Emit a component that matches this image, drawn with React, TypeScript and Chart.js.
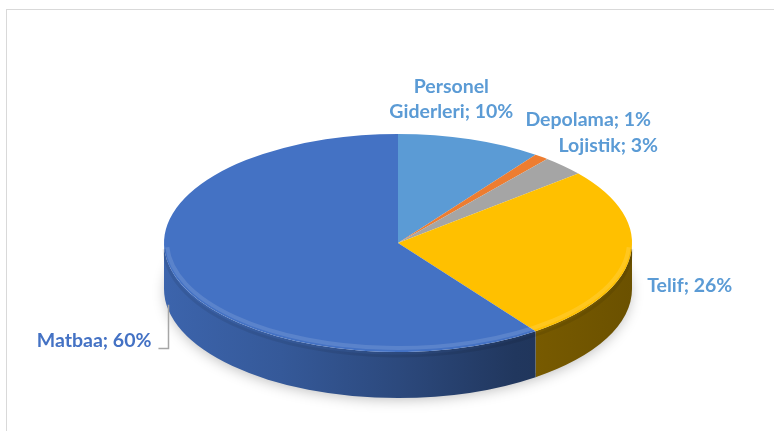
import React, { useEffect, useRef } from 'react';
import { Chart, registerables } from 'chart.js';

Chart.register(...registerables);

// ---- data ----
const categories = ['Personel Giderleri', 'Depolama', 'Lojistik', 'Telif', 'Matbaa'];
const shares = [10, 1, 3, 26, 60];
const sliceColors = ['#5B9BD5', '#ED7D31', '#A5A5A5', '#FFC000', '#4472C4'];
const labelColors = ['#5B9BD5', '#5B9BD5', '#5B9BD5', '#5B9BD5', '#4472C4'];

// ---- layout / style ----
const W = 774;
const H = 431;
const PIE = { cx: 398, cy: 243, rx: 234, ry: 109, depth: 46 };
const LABEL_NUDGE: number[][] = [[-19, -21], [-16, -31], [-5, -14], [17, 35], [-24, 70]];
const LABEL_FONT = 'bold 19.5px Lato, "Open Sans", sans-serif';
const LINE_H = 25;
const WRAP_WIDTH = 150;

function shade(hex: string, f: number): string {
  const n = parseInt(hex.slice(1), 16);
  const r = Math.round(((n >> 16) & 255) * f);
  const g = Math.round(((n >> 8) & 255) * f);
  const b = Math.round((n & 255) * f);
  return `rgb(${r},${g},${b})`;
}

function visibleFront(a0: number, a1: number): number[][] {
  const out: number[][] = [];
  for (let k = -2; k <= 2; k++) {
    const lo = Math.max(a0, k * 2 * Math.PI);
    const hi = Math.min(a1, k * 2 * Math.PI + Math.PI);
    if (hi > lo + 1e-6) out.push([lo, hi]);
  }
  return out;
}

const pie3d = {
  id: 'pie3d',
  beforeDraw(chart: any) {
    const ctx = chart.ctx;
    ctx.save();
    ctx.strokeStyle = '#D9D9D9';
    ctx.lineWidth = 1;
    ctx.strokeRect(6.5, 9.5, W + 40, H + 40);
    ctx.restore();
  },
  beforeDatasetsDraw(chart: any) {
    const ctx = chart.ctx;
    const arcs = chart.getDatasetMeta(0).data;
    if (!arcs.length) return;
    const { cx, cy, rx, ry, depth } = PIE;

    // soft shadow below the disc
    ctx.save();
    ctx.beginPath();
    ctx.ellipse(cx, cy + depth - 2, rx - 2, ry - 2, 0, 0, Math.PI * 2);
    ctx.shadowColor = 'rgba(0,0,0,0.28)';
    ctx.shadowBlur = 14;
    ctx.shadowOffsetY = 5;
    ctx.fillStyle = '#ffffff';
    ctx.fill();
    ctx.restore();

    // side walls
    arcs.forEach((arc: any, i: number) => {
      const parts = visibleFront(arc.startAngle, arc.endAngle);
      parts.forEach(([t0, t1]) => {
        ctx.save();
        ctx.beginPath();
        ctx.ellipse(cx, cy, rx, ry, 0, t0, t1, false);
        ctx.ellipse(cx, cy + depth, rx, ry, 0, t1, t0, true);
        ctx.closePath();
        const g = ctx.createLinearGradient(cx - rx, 0, cx + rx, 0);
        const c = sliceColors[i];
        g.addColorStop(0, shade(c, 0.88));
        g.addColorStop(0.25, shade(c, 0.78));
        g.addColorStop(0.5, shade(c, 0.64));
        g.addColorStop(0.75, shade(c, 0.48));
        g.addColorStop(1, shade(c, 0.42));
        ctx.fillStyle = g;
        ctx.fill();
        ctx.restore();
      });
    });

    // transform the flat pie into the top face of the disc
    const a0 = arcs[0];
    const r = a0.outerRadius;
    ctx.save();
    ctx.translate(cx, cy);
    ctx.scale(rx / r, ry / r);
    ctx.translate(-a0.x, -a0.y);
  },
  afterDatasetsDraw(chart: any) {
    const ctx = chart.ctx;
    ctx.restore();
    const { cx, cy, rx, ry } = PIE;
    // bevel highlight on front rim
    ctx.save();
    ctx.beginPath();
    ctx.ellipse(cx, cy - 1, rx - 3, ry - 3, 0, 0.05, Math.PI - 0.05);
    ctx.strokeStyle = 'rgba(255,255,255,0.12)';
    ctx.lineWidth = 4;
    ctx.stroke();
    ctx.beginPath();
    ctx.ellipse(cx, cy + 4, rx, ry, 0, 0.02, Math.PI - 0.02);
    ctx.strokeStyle = 'rgba(0,0,0,0.08)';
    ctx.lineWidth = 3;
    ctx.stroke();
    ctx.restore();
  },
  afterDraw(chart: any) {
    const ctx = chart.ctx;
    const arcs = chart.getDatasetMeta(0).data;
    const { cx, cy, rx, ry } = PIE;
    ctx.save();
    ctx.font = LABEL_FONT;
    ctx.textBaseline = 'alphabetic';
    arcs.forEach((arc: any, i: number) => {
      const mid = (arc.startAngle + arc.endAngle) / 2;
      const px = cx + rx * Math.cos(mid);
      const py = cy + ry * Math.sin(mid);
      const full = `${categories[i]}; ${shares[i]}%`;
      let lines = [full];
      if (ctx.measureText(full).width > WRAP_WIDTH) {
        const sp = full.indexOf(' ');
        lines = [full.slice(0, sp), full.slice(sp + 1)];
      }
      const c = Math.cos(mid);
      const align = Math.abs(c) < 0.35 ? 'center' : c > 0 ? 'left' : 'right';
      ctx.textAlign = align;
      ctx.fillStyle = labelColors[i];
      const ax = px + LABEL_NUDGE[i][0];
      const by = py + LABEL_NUDGE[i][1];
      lines.forEach((ln, k) => {
        ctx.fillText(ln, ax, by - (lines.length - 1 - k) * LINE_H);
      });
      // leader line for labels pulled far from the slice
      if (Math.hypot(LABEL_NUDGE[i][0], LABEL_NUDGE[i][1]) > 50) {
        const y = Math.round(by) + 1.5;
        const x0 = align === 'right' ? ax + 7 : ax - 7;
        const xl = align === 'right' ? px - 7 : px + 7;
        ctx.beginPath();
        ctx.moveTo(x0, y);
        ctx.lineTo(Math.round(xl) + 0.5, y);
        ctx.lineTo(Math.round(xl) + 0.5, py + 28);
        ctx.strokeStyle = '#A6A6A6';
        ctx.lineWidth = 1.5;
        ctx.stroke();
      }
    });
    ctx.restore();
  },
};

export default function App() {
  const ref = useRef<HTMLCanvasElement | null>(null);
  useEffect(() => {
    if (!ref.current) return;
    const chart = new Chart(ref.current, {
      type: 'pie',
      data: {
        labels: categories,
        datasets: [
          {
            data: shares,
            backgroundColor: sliceColors,
            borderWidth: 0,
            clip: false,
          } as any,
        ],
      },
      options: {
        responsive: false,
        devicePixelRatio: 1,
        animation: false,
        layout: { padding: 20 },
        plugins: {
          legend: { display: false },
          tooltip: { enabled: false },
        },
      },
      plugins: [pie3d as any],
    });
    return () => chart.destroy();
  }, []);
  return (
    <div style={{ position: 'fixed', left: 0, top: 0, width: W, height: H, background: '#fff' }}>
      <canvas ref={ref} width={W} height={H} style={{ display: 'block', width: W, height: H }} />
    </div>
  );
}
